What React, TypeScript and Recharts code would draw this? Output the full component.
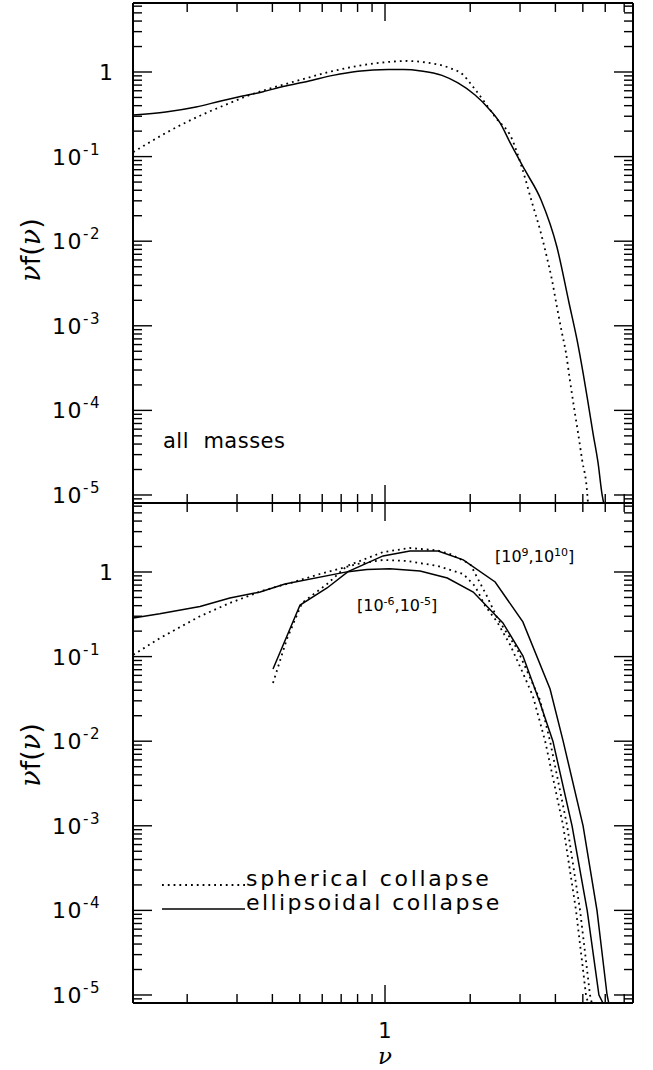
import React from 'react';
import { LineChart, Line, XAxis, YAxis } from 'recharts';

type Pt = [number, number];

// nu, nu f(nu) — all masses
const allSpherical: Pt[] = [
  [0.129, 0.113], [0.148, 0.149], [0.168, 0.19], [0.193, 0.243], [0.229, 0.319],
  [0.272, 0.407], [0.333, 0.535], [0.409, 0.665], [0.501, 0.804], [0.634, 1.0],
  [0.803, 1.18], [1.016, 1.31], [1.206, 1.35], [1.43, 1.28], [1.7, 1.11],
  [1.89, 0.922], [2.01, 0.722], [2.22, 0.467], [2.45, 0.294], [2.81, 0.161],
  [3.05, 0.0733], [3.31, 0.0283], [3.53, 0.0136], [3.73, 0.0065], [3.89, 0.00348],
  [4.05, 0.00167], [4.22, 8.2e-4], [4.36, 4.77e-4], [4.5, 2.29e-4], [4.65, 1.1e-4],
  [4.81, 5.4e-5], [4.97, 2.6e-5], [5.18, 1.06e-5], [5.22, 7.5e-6],
];

const allEllipsoidal: Pt[] = [
  [0.129, 0.31], [0.168, 0.337], [0.215, 0.386], [0.263, 0.454], [0.303, 0.506],
  [0.371, 0.585], [0.436, 0.672], [0.535, 0.778], [0.655, 0.912], [0.803, 1.02],
  [1.025, 1.07], [1.167, 1.07], [1.34, 1.03], [1.59, 0.912], [1.81, 0.743],
  [2.08, 0.535], [2.31, 0.379], [2.55, 0.25], [2.77, 0.145], [3.12, 0.0695],
  [3.56, 0.0307], [4.05, 0.00853], [4.47, 0.00186], [4.77, 6.8e-4], [5.01, 2.77e-4],
  [5.22, 1.22e-4], [5.43, 5.4e-5], [5.66, 2.39e-5], [5.85, 1.0e-5], [5.95, 7.5e-6],
];

// mass bin [1e-6, 1e-5]
const lowSpherical: Pt[] = [
  [0.129, 0.105], [0.16, 0.165], [0.222, 0.3], [0.283, 0.43], [0.371, 0.604],
  [0.462, 0.741], [0.589, 0.947], [0.796, 1.24], [0.984, 1.39], [1.196, 1.35],
  [1.53, 1.18], [1.89, 0.947], [2.08, 0.68], [2.26, 0.396], [2.49, 0.257],
  [2.77, 0.137], [3.07, 0.064], [3.33, 0.0342], [3.68, 0.01], [4.26, 0.001],
  [4.73, 1e-4], [5.13, 1e-5], [5.25, 7.5e-6],
];

const lowEllipsoidal: Pt[] = [
  [0.129, 0.286], [0.16, 0.32], [0.222, 0.39], [0.283, 0.493], [0.362, 0.58],
  [0.443, 0.722], [0.74, 1.01], [0.864, 1.07], [1.04, 1.09], [1.33, 1.03],
  [1.66, 0.849], [2.05, 0.58], [2.61, 0.25], [3.07, 0.102], [3.53, 0.0283],
  [3.92, 0.01], [4.58, 0.001], [5.18, 1e-4], [5.7, 1e-5], [5.95, 7.5e-6],
];

// mass bin [1e9, 1e10]
const highSpherical: Pt[] = [
  [0.402, 0.0488], [0.45, 0.161], [0.509, 0.43], [0.624, 0.72], [0.734, 1.18],
  [0.984, 1.72], [1.225, 1.92], [1.53, 1.8], [1.7, 1.63], [2.0, 1.24],
  [2.29, 0.52], [2.49, 0.286], [2.93, 0.123], [3.53, 0.0307], [3.83, 0.01],
  [4.4, 0.001], [4.89, 1e-4], [5.3, 1e-5], [5.4, 7.5e-6],
];

const highEllipsoidal: Pt[] = [
  [0.402, 0.0713], [0.501, 0.407], [0.624, 0.647], [0.74, 1.01], [0.984, 1.55],
  [1.225, 1.77], [1.54, 1.77], [1.89, 1.39], [2.45, 0.762], [3.07, 0.257],
  [3.83, 0.0414], [4.26, 0.01], [5.01, 0.001], [5.61, 1e-4], [6.09, 1e-5],
  [6.2, 7.5e-6],
];

const NU_TICKS = [0.2, 0.3, 0.4, 0.5, 0.6, 0.7, 0.8, 0.9, 1, 2, 3, 4, 5, 6, 7];
const F_DECADES = [1e-5, 1e-4, 1e-3, 1e-2, 1e-1, 1];
const F_MINOR = [2, 3, 4, 5, 6, 7, 8, 9];
const NU_DOMAIN: [number, number] = [0.1287, 7.52];
const F_DOMAIN: [number, number] = [8.04e-6, 6.54];

const F_TICKS = [9e-6, ...F_DECADES.flatMap((d) => [d, ...F_MINOR.map((m) => m * d)])].filter(
  (v) => v <= F_DOMAIN[1]
);

const FONT = '"DejaVu Sans", sans-serif';
const GREEK = '"DejaVu Serif", serif';

const rows = (pts: Pt[]) => pts.map(([nu, f]) => ({ nu, f }));

const isDecade = (v: number) => Math.abs(Math.log10(v) - Math.round(Math.log10(v))) < 1e-6;

function NuTick(props: any) {
  const { x, y, payload, side, labelled } = props;
  const major = payload.value === 1;
  const len = major ? 18 : 9;
  const dir = side === 'top' ? 1 : -1;
  return (
    <g>
      <line x1={x} x2={x} y1={y} y2={y + dir * len} stroke="#000" strokeWidth={1.4} />
      {labelled && major && (
        <text x={x} y={y + 35} textAnchor="middle" fontSize={21} fontFamily={FONT}>
          1
        </text>
      )}
    </g>
  );
}

function FTick(props: any) {
  const { x, y, payload, side, labelled } = props;
  const v = payload.value;
  const major = isDecade(v);
  const len = major ? 19 : 9;
  const dir = side === 'left' ? 1 : -1;
  const exp = Math.round(Math.log10(v));
  return (
    <g>
      <line x1={x} x2={x + dir * len} y1={y} y2={y} stroke="#000" strokeWidth={1.4} />
      {labelled && major &&
        (exp === 0 ? (
          <text x={x - 20} y={y + 8} textAnchor="end" fontSize={22} fontFamily={FONT}>
            1
          </text>
        ) : (
          <text x={x - 32} y={y + 8} textAnchor="end" fontSize={22} letterSpacing={1.5} fontFamily={FONT}>
            <tspan>10</tspan>
            <tspan dy={-10} fontSize={15}>{`-${-exp}`}</tspan>
          </text>
        ))}
    </g>
  );
}

// rotated y title, centred on (cx, cy)
function FTitle({ cx, cy }: { cx: number; cy: number }) {
  return (
    <text
      x={cx}
      y={cy}
      transform={`rotate(-90, ${cx}, ${cy})`}
      textAnchor="middle"
      fontSize={27}
      fontFamily={FONT}
    >
      <tspan fontFamily={GREEK} fontStyle="italic">ν</tspan>
      <tspan>f(</tspan>
      <tspan fontFamily={GREEK} fontStyle="italic">ν</tspan>
      <tspan>)</tspan>
    </text>
  );
}

type Series = { name: string; pts: Pt[]; dotted: boolean };

function Panel({
  series,
  height,
  topPad,
  bottomPad,
  showNu,
  curve,
}: {
  series: Series[];
  height: number;
  topPad: number;
  bottomPad: number;
  showNu: boolean;
  curve: 'linear' | 'monotone';
}) {
  const axisLine = { stroke: '#000', strokeWidth: 2 };
  return (
    <LineChart width={653} height={height} margin={{ top: 0, right: 0, bottom: 0, left: 0 }}>
      <XAxis
        dataKey="nu"
        type="number"
        scale="log"
        domain={NU_DOMAIN}
        allowDataOverflow
        ticks={NU_TICKS}
        interval={0}
        height={bottomPad}
        tickSize={0}
        tickMargin={0}
        tickLine={false}
        axisLine={axisLine}
        tick={(p: any) => <NuTick {...p} side="bottom" labelled={showNu} />}
      />
      <XAxis
        xAxisId="top"
        orientation="top"
        dataKey="nu"
        type="number"
        scale="log"
        domain={NU_DOMAIN}
        allowDataOverflow
        ticks={NU_TICKS}
        interval={0}
        height={topPad}
        tickSize={0}
        tickMargin={0}
        tickLine={false}
        axisLine={axisLine}
        tick={(p: any) => <NuTick {...p} side="top" />}
      />
      <YAxis
        type="number"
        scale="log"
        domain={F_DOMAIN}
        allowDataOverflow
        ticks={F_TICKS}
        interval={0}
        width={133}
        tickSize={0}
        tickMargin={0}
        tickLine={false}
        axisLine={axisLine}
        tick={(p: any) => <FTick {...p} side="left" labelled />}
      />
      <YAxis
        yAxisId="right"
        orientation="right"
        type="number"
        scale="log"
        domain={F_DOMAIN}
        allowDataOverflow
        ticks={F_TICKS}
        interval={0}
        width={20}
        tickSize={0}
        tickMargin={0}
        tickLine={false}
        axisLine={axisLine}
        tick={(p: any) => <FTick {...p} side="right" />}
      />
      {series.map((s) => (
        <Line
          key={s.name}
          name={s.name}
          data={rows(s.pts)}
          dataKey="f"
          type={curve}
          stroke="#000"
          strokeWidth={s.dotted ? 1.8 : 1.5}
          strokeDasharray={s.dotted ? '1.8 4' : undefined}
          dot={false}
          activeDot={false}
          isAnimationActive={false}
        />
      ))}
    </LineChart>
  );
}

const topSeries: Series[] = [
  { name: 'all-spherical', pts: allSpherical, dotted: true },
  { name: 'all-ellipsoidal', pts: allEllipsoidal, dotted: false },
];

const bottomSeries: Series[] = [
  { name: 'low-spherical', pts: lowSpherical, dotted: true },
  { name: 'low-ellipsoidal', pts: lowEllipsoidal, dotted: false },
  { name: 'high-spherical', pts: highSpherical, dotted: true },
  { name: 'high-ellipsoidal', pts: highEllipsoidal, dotted: false },
];

export default function App() {
  return (
    <div style={{ position: 'absolute', left: 0, top: 0, width: 653, height: 1070, background: '#fff' }}>
      <div style={{ position: 'absolute', left: 0, top: 0 }}>
        <Panel series={topSeries} height={510} topPad={3} bottomPad={7} showNu={false} curve="monotone" />
      </div>
      <div style={{ position: 'absolute', left: 0, top: 493 }}>
        <Panel series={bottomSeries} height={577} topPad={10} bottomPad={67} showNu curve="linear" />
      </div>
      <svg
        width={653}
        height={1070}
        style={{ position: 'absolute', left: 0, top: 0, pointerEvents: 'none' }}
        fontFamily={FONT}
      >
        <FTitle cx={40} cy={250} />
        <FTitle cx={40} cy={755} />
        <text x={385} y={1064} textAnchor="middle" fontSize={23} fontFamily={GREEK} fontStyle="italic">
          ν
        </text>
        <text x={163} y={448} fontSize={21} letterSpacing={0.5} style={{ whiteSpace: 'pre' }}>
          all  masses
        </text>
        <text x={495} y={562} fontSize={16}>
          <tspan>[10</tspan>
          <tspan dy={-6} fontSize={11}>9</tspan>
          <tspan dy={6}>,10</tspan>
          <tspan dy={-6} fontSize={11}>10</tspan>
          <tspan dy={6}>]</tspan>
        </text>
        <text x={357} y={611} fontSize={16}>
          <tspan>[10</tspan>
          <tspan dy={-6} fontSize={11}>-6</tspan>
          <tspan dy={6}>,10</tspan>
          <tspan dy={-6} fontSize={11}>-5</tspan>
          <tspan dy={6}>]</tspan>
        </text>
        <line x1={162} x2={245} y1={885} y2={885} stroke="#000" strokeWidth={1.8} strokeDasharray="1.8 4" />
        <text x={246} y={886} fontSize={22} letterSpacing={2.7}>spherical collapse</text>
        <line x1={162} x2={245} y1={909} y2={909} stroke="#000" strokeWidth={1.5} />
        <text x={246} y={910} fontSize={22} letterSpacing={2.4}>ellipsoidal collapse</text>
      </svg>
    </div>
  );
}
